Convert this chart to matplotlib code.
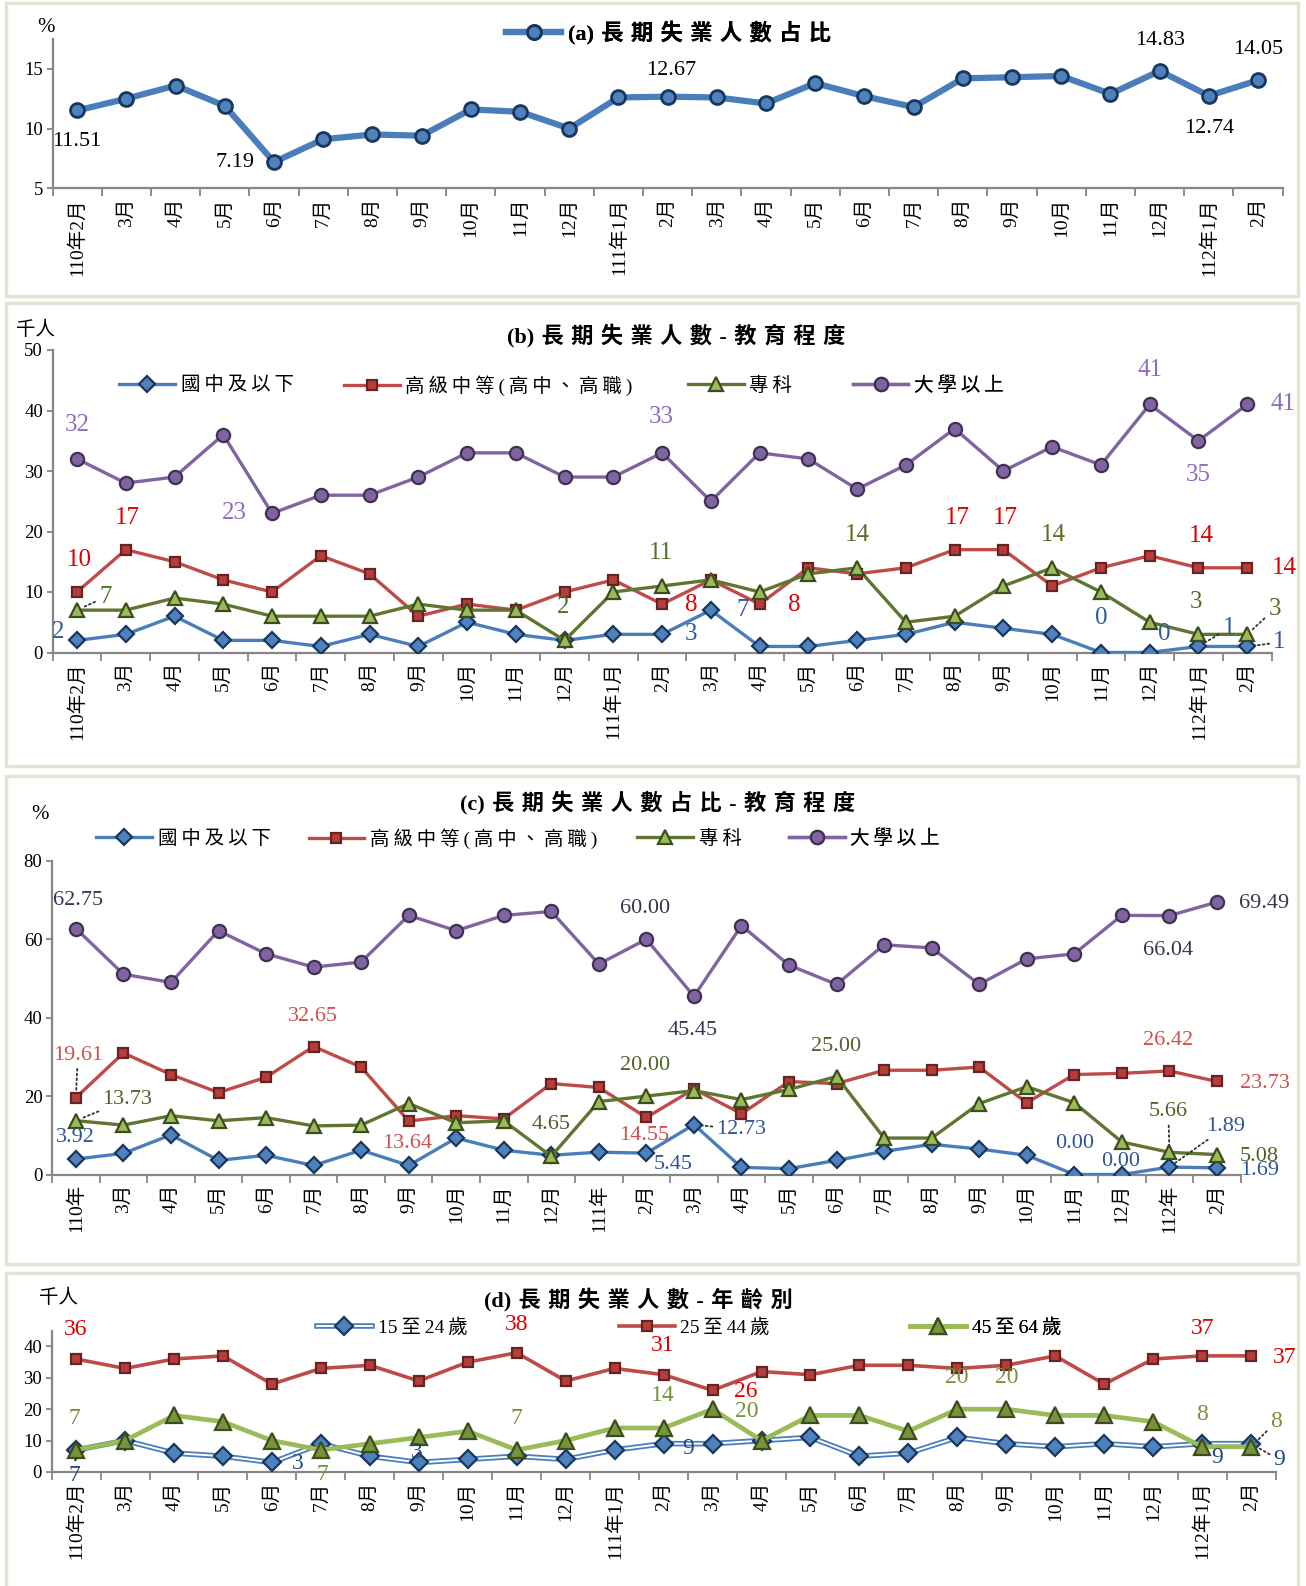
import numpy as np
import matplotlib.pyplot as plt
from matplotlib.patches import Rectangle
from matplotlib.font_manager import FontProperties

FAM = ['Liberation Serif', 'Noto Sans CJK TC', 'DejaVu Sans']
plt.rcParams['font.family'] = FAM

W, H = 1306, 1586
K = 0.728  # reference pixel offsets -> points

months = ['110年2月', '3月', '4月', '5月', '6月', '7月', '8月', '9月', '10月',
          '11月', '12月', '111年1月', '2月', '3月', '4月', '5月', '6月', '7月',
          '8月', '9月', '10月', '11月', '12月', '112年1月', '2月']
months_c = [m[:4] if '年' in m else m for m in months]

# (a) share of long-term unemployed (%)
share_total = [11.51, 12.5, 13.6, 11.9, 7.19, 9.1, 9.5, 9.4, 11.6, 11.4, 10.0, 12.6,
               12.67, 12.6, 12.1, 13.8, 12.7, 11.8, 14.2, 14.3, 14.4, 12.9, 14.83, 12.74, 14.05]

# (b) counts by education (thousand persons)
edu_names = ['國中及以下', '高級中等(高中、高職)', '專科', '大學以上']
cnt_junior = [2, 3, 6, 2, 2, 1, 3, 1, 5, 3, 2, 3, 3, 7, 1, 1, 2, 3, 5, 4, 3, 0, 0, 1, 1]
cnt_senior = [10, 17, 15, 12, 10, 16, 13, 6, 8, 7, 10, 12, 8, 12, 8, 14, 13, 14, 17, 17, 11, 14, 16, 14, 14]
cnt_college = [7, 7, 9, 8, 6, 6, 6, 8, 7, 7, 2, 10, 11, 12, 10, 13, 14, 5, 6, 11, 14, 10, 5, 3, 3]
cnt_univ = [32, 28, 29, 36, 23, 26, 26, 29, 33, 33, 29, 29, 33, 25, 33, 32, 27, 31, 37, 30, 34, 31, 41, 35, 41]

# (c) shares by education (%)
pct_junior = [3.92, 5.4, 10.1, 3.6, 4.9, 2.3, 6.2, 2.3, 9.3, 6.2, 4.9, 5.7, 5.45, 12.73,
              1.8, 1.5, 3.6, 5.9, 7.7, 6.5, 4.9, 0.00, 0.00, 1.89, 1.69]
pct_senior = [19.61, 31.0, 25.5, 20.9, 24.8, 32.65, 27.4, 13.64, 15.0, 14.2, 23.2, 22.2, 14.55,
              21.8, 15.5, 23.7, 23.2, 26.6, 26.6, 27.4, 18.3, 25.5, 25.8, 26.42, 23.73]
pct_college = [13.73, 12.6, 15.0, 13.7, 14.5, 12.4, 12.6, 18.1, 13.2, 13.7, 4.65, 18.6, 20.00,
               21.4, 19.1, 21.7, 25.00, 9.3, 9.3, 18.1, 22.4, 18.3, 8.3, 5.66, 5.08]
pct_univ = [62.75, 51.1, 49.0, 62.2, 56.3, 52.9, 54.2, 66.1, 62.2, 66.1, 67.1, 53.7, 60.00,
            45.45, 63.5, 53.4, 48.5, 58.6, 57.8, 48.5, 55.0, 56.3, 66.1, 66.04, 69.49]

# (d) counts by age (thousand persons)
age_names = ['15至24歲', '25至44歲', '45至64歲']
age_15_24 = [7, 10, 6, 5, 3, 9, 5, 3, 4, 5, 4, 7, 9, 9, 10, 11, 5, 6, 11, 9, 8, 9, 8, 9, 9]
age_25_44 = [36, 33, 36, 37, 28, 33, 34, 29, 35, 38, 29, 33, 31, 26, 32, 31, 34, 34, 33, 34, 37, 28, 36, 37, 37]
age_45_64 = [7, 10, 18, 16, 10, 7, 9, 11, 13, 7, 10, 14, 14, 20, 10, 18, 18, 13, 20, 20, 18, 18, 16, 8, 8]

x = np.arange(len(months))
AXC = '#868686'


def spaced(s, sep):
    # letter-space the CJK characters like the original layout
    out = ''
    for a, b in zip(s, s[1:] + ' '):
        out += a
        if b != ' ' and (ord(a) > 0x2E80 or ord(b) > 0x2E80):
            out += sep
    return out


fig = plt.figure(figsize=(W / 100, H / 100), dpi=100)
fig.patch.set_facecolor('white')

# panel frames
for y0, y1 in [(3, 296), (303, 766), (776, 1264), (1273, 1590)]:
    fig.add_artist(Rectangle((6 / W, 1 - y1 / H), 1292 / W, (y1 - y0) / H,
                             transform=fig.transFigure, fill=False,
                             ec='#E6E3D6', lw=2.5))


def panel_axes(l, t, r, b):
    return fig.add_axes([l / W, 1 - b / H, (r - l) / W, (b - t) / H])


def style(ax, ylim, yticks, labels):
    ax.patch.set_alpha(0)
    ax.set_xlim(-0.5, 24.5)
    ax.set_ylim(*ylim)
    ax.set_yticks(yticks)
    ax.set_yticklabels([str(t) for t in yticks], fontsize=13.5)
    ax.set_xticks(np.arange(-0.5, 25, 1))
    ax.set_xticklabels([])
    ax.set_xticks(x, minor=True)
    ax.set_xticklabels(labels, minor=True, rotation=90, fontsize=14)
    ax.tick_params(axis='x', which='minor', length=0, pad=7)
    ax.tick_params(axis='x', which='major', length=6, width=1.3, color=AXC)
    ax.tick_params(axis='y', length=4, width=1.3, color=AXC, pad=3)
    for s in ['top', 'right']:
        ax.spines[s].set_visible(False)
    for s in ['left', 'bottom']:
        ax.spines[s].set_color(AXC)
        ax.spines[s].set_linewidth(1.6)


def tag(ax, vals, i, fmt, dx, dy, color, size, lead=False):
    kw = {}
    if lead:
        kw['arrowprops'] = dict(arrowstyle='-', ls=':', color='#333333', lw=1.3,
                                shrinkA=1, shrinkB=5)
    ax.annotate(fmt.format(vals[i]), (i, vals[i]), xytext=(dx * K, dy * K),
                textcoords='offset points', ha='center', va='center',
                color=color, fontsize=size, annotation_clip=False, zorder=6, **kw)


def entry(ax, handle, text, xpx, ypx, size=14, weight='normal', hl=2.86, sep='\u2009'):
    leg = ax.legend([handle], [spaced(text, sep)], loc='center left',
                    bbox_to_anchor=(xpx / W, 1 - ypx / H), bbox_transform=fig.transFigure,
                    frameon=False, borderpad=0, borderaxespad=0, handlelength=hl,
                    handletextpad=0.3,
                    prop=FontProperties(family=FAM, size=size, weight=weight))
    ax.add_artist(leg)


def title(text, xpx, ypx):
    fig.text(xpx / W, 1 - ypx / H, spaced(text, '\u2004'), fontsize=16, weight='bold',
             ha='center', va='center')


# styles for education series: (line, marker, face, edge, ms)
edu_style = [
    ('#4A7EBB', 'D', '#4F81BD', '#17375E', 8.5),
    ('#BE4B48', 's', '#B83C3A', '#632523', 7.5),
    ('#5F7530', '^', '#9BBB59', '#3C4D1C', 9.5),
    ('#8064A2', 'o', '#8064A2', '#3F3151', 9.5),
]

# ---------------- (a)
ax = panel_axes(52.6, 39, 1282.7, 188.2)
style(ax, (5, 17.5), [5, 10, 15], months)
la, = ax.plot(x, share_total, color='#4A7EBB', lw=4.5, marker='o', ms=10,
              mfc='#4F81BD', mec='#17375E', mew=2, zorder=3)
for i, dx, dy in [(0, 0, -31), (4, -39, 0), (12, 3, 26), (22, 0, 30), (23, 0, -32), (24, 0, 30)]:
    tag(ax, share_total, i, '{:.2f}', dx, dy, 'black', 16)
entry(ax, la, '(a)長期失業人數占比', 505.8, 32.4, size=16, weight='bold', hl=2.5, sep='\u2004')
fig.text(45.5 / W, 1 - 27 / H, '%', fontsize=15, ha='center', va='center')

# ---------------- (b)
ax = panel_axes(52.6, 350, 1271.6, 652.5)
style(ax, (0, 50), [0, 10, 20, 30, 40, 50], months)
series_b = [cnt_junior, cnt_senior, cnt_college, cnt_univ]
lines_b = []
for vals, (lc, mk, fc, ec, ms) in zip(series_b, edu_style):
    ln, = ax.plot(x, vals, color=lc, lw=2.4, marker=mk, ms=ms, mfc=fc, mec=ec, mew=1.6, zorder=3)
    lines_b.append(ln)
cb = ['#2E5C9A', '#E00000', '#5A7029', '#8E6EBA']
for i, dx, dy, ld in [(0, -19, 8, 0), (12, 29, 0, 0), (13, 31, 0, 0), (21, 0, 34, 0),
                      (22, 14, 18, 0), (23, 30, 18, 1), (24, 32, 4, 1)]:
    tag(ax, cnt_junior, i, '{}', dx, dy, cb[0], 18, ld)
for i, dx, dy in [(0, 2, 32), (1, 2, 31), (12, 29, -1), (14, 34, -1), (18, 3, 31),
                  (19, 2, 31), (23, 3, 31), (24, 37, 0)]:
    tag(ax, cnt_senior, i, '{}', dx, dy, cb[1], 18)
for i, dx, dy, ld in [(0, 28, 13, 1), (10, -1, 33, 0), (12, -1, 33, 0), (16, 0, 32, 0),
                      (20, 1, 32, 0), (23, -2, 32, 0), (24, 27, 25, 1)]:
    tag(ax, cnt_college, i, '{}', dx, dy, cb[2], 18, ld)
for i, dx, dy in [(0, 0, 34), (4, -37, 0), (12, -1, 35), (22, 0, 34), (23, 0, -34), (24, 35, 0)]:
    tag(ax, cnt_univ, i, '{}', dx, dy, cb[3], 18)
for ln, name, xp in zip(lines_b, edu_names, [119.4, 344, 688, 852.8]):
    entry(ax, ln, name, xp, 385.4)
title('(b)長期失業人數-教育程度', 676, 336)
fig.text(35.4 / W, 1 - 330 / H, '千人', fontsize=14, ha='center', va='center')

# ---------------- (c)
ax = panel_axes(52.1, 860.9, 1240.7, 1174.5)
style(ax, (0, 80), [0, 20, 40, 60, 80], months_c)
series_c = [pct_junior, pct_senior, pct_college, pct_univ]
lines_c = []
for vals, (lc, mk, fc, ec, ms) in zip(series_c, edu_style):
    ln, = ax.plot(x, vals, color=lc, lw=2.4, marker=mk, ms=ms, mfc=fc, mec=ec, mew=1.6, zorder=3)
    lines_c.append(ln)
cc = ['#2E5597', '#D0504D', '#4F6228', '#3F3151']
for i, dx, dy, ld in [(0, 0, 21, 0), (12, 26, -11, 0), (13, 47, -5, 1), (21, 0, 31, 0),
                      (22, -1, 13, 0), (23, 56, 40, 1), (24, 42, -3, 0)]:
    tag(ax, pct_junior, i, '{:.2f}', dx, dy, cc[0], 16, ld)
for i, dx, dy, ld in [(0, 2, 42, 1), (5, -1, 30, 0), (7, -2, -22, 0), (12, -2, -18, 0),
                      (23, -1, 30, 0), (24, 47, -2, 0)]:
    tag(ax, pct_senior, i, '{:.2f}', dx, dy, cc[1], 16, ld)
for i, dx, dy, ld in [(0, 51, 21, 1), (10, 0, 31, 0), (12, -1, 30, 0), (16, -1, 30, 0),
                      (23, -1, 40, 1), (24, 42, -2, 0)]:
    tag(ax, pct_college, i, '{:.2f}', dx, dy, cc[2], 16, ld)
for i, dx, dy in [(0, 2, 28), (12, -1, 30), (13, -1, -34), (23, -1, -34), (24, 47, -1)]:
    tag(ax, pct_univ, i, '{:.2f}', dx, dy, cc[3], 16)
for ln, name, xp in zip(lines_c, edu_names, [96.1, 308.5, 637.3, 789]):
    entry(ax, ln, name, xp, 838.6)
title('(c)長期失業人數占比-教育程度', 657.5, 803)
fig.text(40.5 / W, 1 - 814 / H, '%', fontsize=15, ha='center', va='center')

# ---------------- (d)
ax = panel_axes(51.6, 1330.8, 1275.6, 1471.9)
style(ax, (0, 45), [0, 10, 20, 30, 40], months)
b_out, = ax.plot(x, age_15_24, color='#4A7EBB', lw=4, zorder=3)
b_in, = ax.plot(x, age_15_24, color='white', lw=1.4, zorder=3)
b_mk, = ax.plot(x, age_15_24, ls='none', marker='D', ms=9, mfc='#4F81BD', mec='#17375E',
                mew=1.6, zorder=3)
r_ln, = ax.plot(x, age_25_44, color='#BE4B48', lw=2.6, marker='s', ms=7.5, mfc='#B83C3A',
                mec='#632523', mew=1.6, zorder=3)
g_ln, = ax.plot(x, age_45_64, color='#9BBB59', lw=3.4, marker='^', ms=11, mfc='#77933C',
                mec='#3C4D1C', mew=1.6, zorder=3)
cd = ['#1F497D', '#E00000', '#77933C']
for i, dx, dy, ld in [(0, -2, -25, 1), (4, 26, -1, 0), (7, -2, 10, 0), (12, 24, -5, 0),
                      (23, 15, -14, 0), (24, 28, -16, 1)]:
    tag(ax, age_15_24, i, '{}', dx, dy, cd[0], 17, ld)
for i, dx, dy in [(0, 0, 29), (9, 0, 28), (12, -1, 29), (13, 33, -1), (23, 0, 27), (24, 33, -2)]:
    tag(ax, age_25_44, i, '{}', dx, dy, cd[1], 17)
for i, dx, dy, ld in [(0, -2, 31, 0), (5, 1, -24, 0), (9, 0, 31, 0), (12, -1, 32, 0),
                      (13, 34, -2, 0), (18, -1, 31, 0), (19, 0, 31, 0), (23, 0, 32, 0),
                      (24, 25, 25, 1)]:
    tag(ax, age_45_64, i, '{}', dx, dy, cd[2], 17, ld)
for h, name, xp in zip([(b_out, b_in, b_mk), r_ln, g_ln], age_names, [316.6, 619, 910.4]):
    entry(ax, h, name, xp, 1327.2)
title('(d)長期失業人數-年齡別', 638, 1300)
fig.text(58.7 / W, 1 - 1298 / H, '千人', fontsize=14, ha='center', va='center')

fig.savefig('out.png', dpi=100, facecolor='white')
